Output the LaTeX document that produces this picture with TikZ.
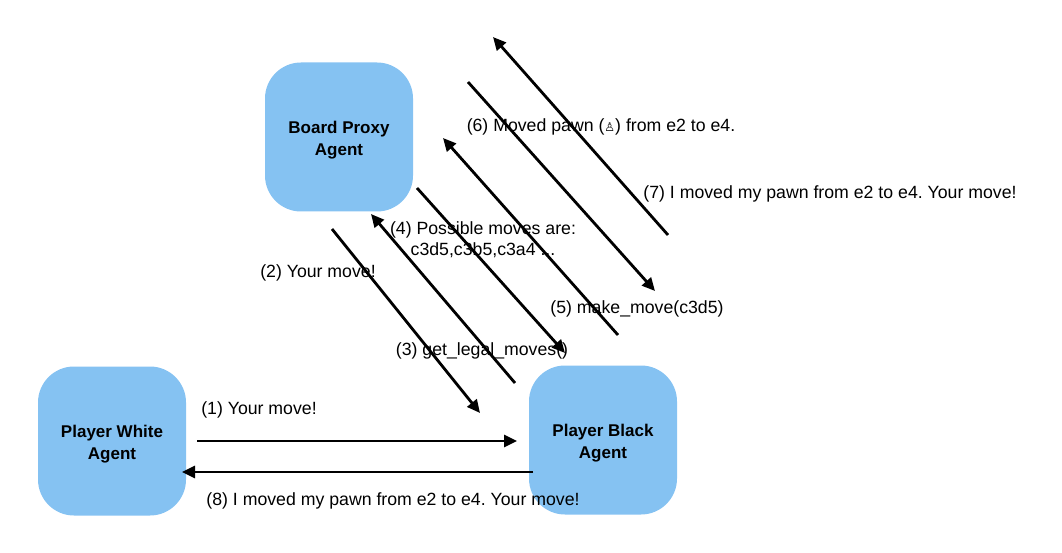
\documentclass[tikz,border=0pt]{standalone}
\usepackage{fontspec}
\setmainfont{Liberation Sans}
\newfontfamily\symfont{DejaVu Sans}
\usetikzlibrary{arrows.meta}
\definecolor{agentblue}{HTML}{85C2F2}
\frenchspacing
\newcommand{\agenttext}[2]{\raisebox{-3pt}[\height][\depth]{\begin{tabular}{@{}c@{}}#1\\#2\end{tabular}}}
\begin{document}
\begin{tikzpicture}[x=1pt,y=-1pt,
  agent/.style={fill=agentblue, draw=none, rounded corners=36pt, minimum width=148pt, minimum height=149pt, inner sep=0pt, font=\fontsize{17}{22}\selectfont\bfseries},
  msg/.style={line width=2.8pt, -{Triangle[length=13pt,width=12pt]}},
  lbl/.style={font=\fontsize{17.7}{21}\selectfont, align=center, inner sep=0pt}]
\useasboundingbox (0,0) rectangle (1062,553);
\node[agent] (proxy) at (339,137) {\agenttext{Board Proxy}{Agent}};
\node[agent] (white) at (112,441) {\agenttext{Player White}{Agent}};
\node[agent] (black) at (603,440) {\agenttext{Player Black}{Agent}};
% endpoints
\coordinate (a1s) at (197,441); \coordinate (a1e) at (517,441);
\coordinate (a8s) at (533,472); \coordinate (a8e) at (182,472);
\coordinate (a2s) at (332,229); \coordinate (a2e) at (480,413);
\coordinate (a3s) at (515,383); \coordinate (a3e) at (371,214);
\coordinate (a4s) at (417,188); \coordinate (a4e) at (565,353);
\coordinate (a5s) at (618,335); \coordinate (a5e) at (443,138);
\coordinate (a6s) at (468,82);  \coordinate (a6e) at (655,291);
\coordinate (a7s) at (668,235); \coordinate (a7e) at (493,37);
\draw[msg] (a1s) -- (a1e);
\draw[msg] (a8s) -- (a8e);
\draw[msg] (a2s) -- (a2e);
\draw[msg] (a3s) -- (a3e);
\draw[msg] (a4s) -- (a4e);
\draw[msg] (a5s) -- (a5e);
\draw[msg] (a6s) -- (a6e);
\draw[msg] (a7s) -- (a7e);
% labels
\node[lbl] (l1) at (259,410) {(1) Your move!};
\node[lbl] (l8) at (393,501) {(8) I moved my pawn from e2 to e4. Your move!};
\node[lbl] (l2) at (318,273) {(2) Your move!};
\node[lbl] (l3) at (482,351) {(3) get\_legal\_moves()};
\node[lbl] (l4) at (483,240) {(4) Possible moves are:\\c3d5,c3b5,c3a4 ...};
\node[lbl] (l5) at (637,309) {(5) make\_move(c3d5)};
\node[lbl] (l6) at (601,127) {(6) Moved pawn ({\symfont\fontsize{12}{14}\selectfont ♙}) from e2 to e4.};
\node[lbl] (l7) at (830,194) {(7) I moved my pawn from e2 to e4. Your move!};
\end{tikzpicture}
\end{document}
